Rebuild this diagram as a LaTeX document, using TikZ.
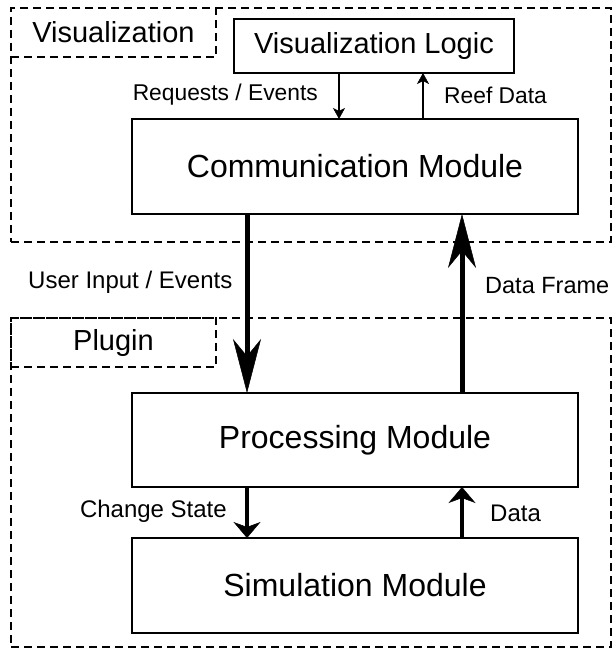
\documentclass[tikz,border=0pt]{standalone}
\usepackage{fontspec}
\setmainfont{Liberation Sans}
\usetikzlibrary{arrows.meta}
\begin{document}
\begin{tikzpicture}[x=1pt,y=-1pt,
  region/.style={draw, line width=1.6pt, dash pattern=on 8pt off 5pt, inner sep=0pt, outer sep=0pt},
  regionlabel/.style={region, font=\fontsize{29}{34}\selectfont},
  modbox/.style={draw, line width=2pt, inner sep=0pt, outer sep=0pt, font=\fontsize{32}{38}\selectfont},
  logicbox/.style={modbox, font=\fontsize{29}{34}\selectfont},
  smalllabel/.style={inner sep=0pt, font=\fontsize{22.8}{27}\selectfont},
  midlabel/.style={inner sep=0pt, font=\fontsize{24}{28}\selectfont},
  framelabel/.style={inner sep=0pt, font=\fontsize{23.5}{28}\selectfont},
  bigarrow/.style={line width=5pt, -{Stealth[length=54pt,width=28pt,inset=17pt,line width=0.5pt]}},
  medarrow/.style={line width=4pt, -{Stealth[length=16pt,width=27pt,inset=5pt,line width=0.5pt]}},
  smallarrow/.style={line width=2pt, -{Stealth[length=11pt,width=12pt,inset=3pt,line width=0.5pt]}}
]
\fill[white] (0,0) rectangle (612,652);
\useasboundingbox (0,0) rectangle (612,652);

% regions
\node[region, minimum width=600pt, minimum height=234pt] (visregion) at (311,125) {};
\node[regionlabel, minimum width=205pt, minimum height=49pt] (vislabel) at (113.5,32.5) {Visualization};
\node[region, minimum width=600pt, minimum height=329pt] (plugregion) at (311,482.5) {};
\node[regionlabel, minimum width=205pt, minimum height=49pt] (pluglabel) at (113.5,342.5) {Plugin};

% modules
\node[logicbox, minimum width=280pt, minimum height=54pt] (vlogic) at (374,46) {Visualization Logic};
\node[modbox, minimum width=446pt, minimum height=95pt] (comm) at (355,166.5) {Communication Module};
\node[modbox, minimum width=446pt, minimum height=94pt] (proc) at (355,440) {Processing Module};
\node[modbox, minimum width=446pt, minimum height=95pt] (sim) at (355,585.5) {Simulation Module};

% arrow columns
\coordinate (xreq) at (339,0);
\coordinate (xreef) at (423,0);
\coordinate (xleft) at (247,0);
\coordinate (xright) at (462,0);

\draw[smallarrow] (xreq |- vlogic.south) -- (xreq |- comm.north);
\draw[smallarrow] (xreef |- comm.north) -- (xreef |- vlogic.south);
\draw[bigarrow] (xleft |- comm.south) -- (xleft |- proc.north);
\draw[bigarrow] (xright |- proc.north) -- (xright |- comm.south);
\draw[medarrow] (xleft |- proc.south) -- (xleft |- sim.north);
\draw[medarrow] (xright |- sim.north) -- (xright |- proc.south);

% labels
\node[smalllabel, anchor=east] (lreq) at (318,95) {Requests / Events};
\node[smalllabel, anchor=west] (lreef) at (444,95) {Reef Data};
\node[midlabel, anchor=west] (luser) at (28,282) {User Input / Events};
\node[framelabel, anchor=west] (lframe) at (485,286) {Data Frame};
\node[midlabel, anchor=east] (lchange) at (227,511) {Change State};
\node[midlabel, anchor=west] (ldata) at (490,513) {Data};
\end{tikzpicture}
\end{document}
